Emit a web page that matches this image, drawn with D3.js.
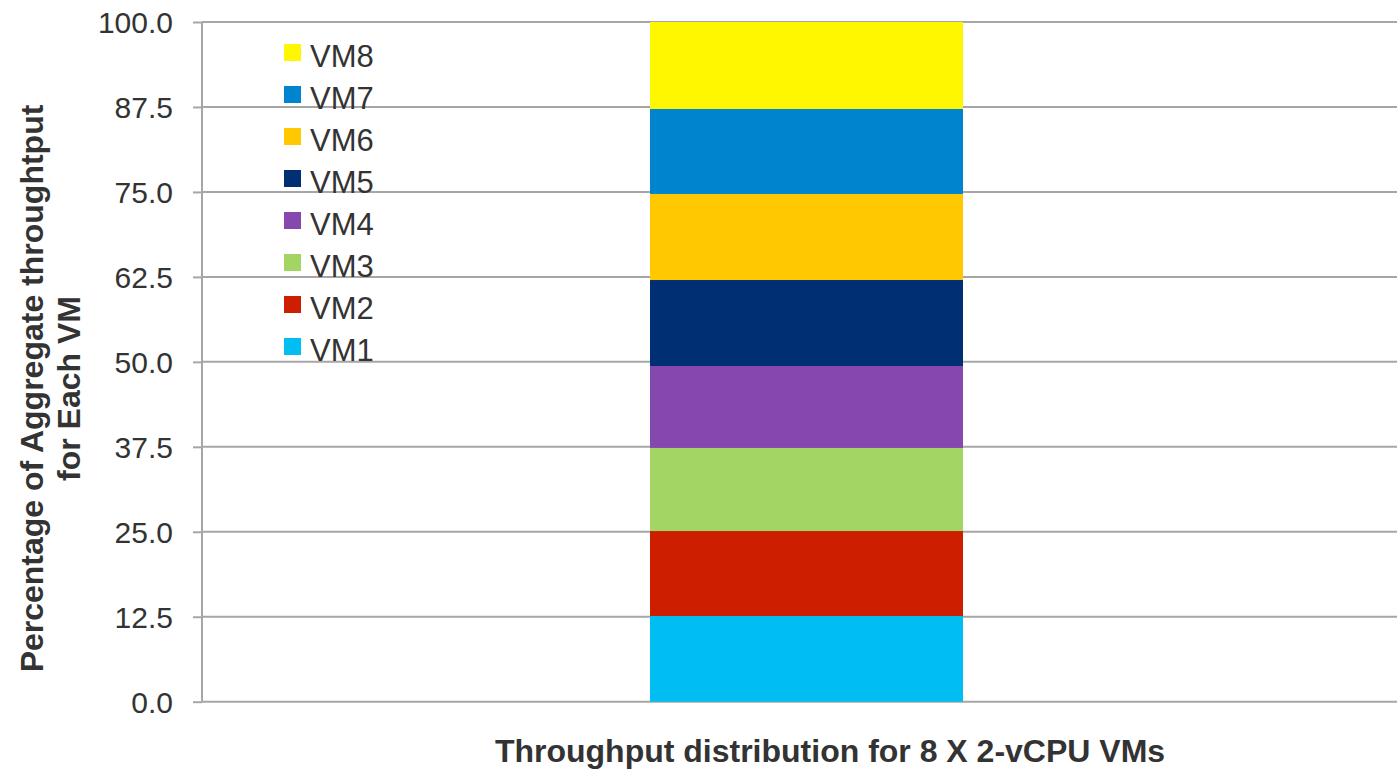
<!DOCTYPE html>
<html>
<head>
<meta charset="utf-8">
<script src="https://cdn.jsdelivr.net/npm/d3@7/dist/d3.min.js"></script>
<style>
  html, body { margin: 0; padding: 0; background: #fff; }
  svg { display: block; font-family: "Liberation Sans", Arial, sans-serif; }
</style>
</head>
<body>
<svg id="chart" width="1397" height="769"></svg>
<script>
// Share of aggregate throughput per VM (percent), stacked bottom to top
const categories = ["Throughput distribution for 8 X 2-vCPU VMs"];
const seriesNames = ["VM1", "VM2", "VM3", "VM4", "VM5", "VM6", "VM7", "VM8"];
const seriesValues = [12.61, 12.50, 12.22, 12.06, 12.65, 12.66, 12.50, 12.80];
const seriesColors = ["#00bdf2", "#cd1e00", "#a2d563", "#8549ae", "#002f73", "#ffc800", "#0084ce", "#fff700"];
const yTicks = [0, 12.5, 25, 37.5, 50, 62.5, 75, 87.5, 100];
const yTitleLines = ["Percentage of Aggregate throughtput", "for Each VM"];
const xTitle = "Throughput distribution for 8 X 2-vCPU VMs";

const svg = d3.select("#chart");
const plot = { left: 202, right: 1411, top: 22, bottom: 701.7 };

const y = d3.scaleLinear().domain([0, 100]).range([plot.bottom, plot.top]);
const x = d3.scaleBand().domain(categories).range([plot.left, plot.right])
  .paddingInner(0.5887).paddingOuter(0.5887);

// Horizontal gridlines
svg.append("g").selectAll("line").data(yTicks).join("line")
  .attr("x1", plot.left).attr("x2", plot.right)
  .attr("y1", d => y(d)).attr("y2", d => y(d))
  .attr("stroke", "#a6a6a6").attr("stroke-width", 2);

// Stacked bar
const row = { cat: categories[0] };
seriesNames.forEach((n, i) => row[n] = seriesValues[i]);
const stack = d3.stack().keys(seriesNames)([row]);
svg.append("g").selectAll("rect").data(stack).join("rect")
  .attr("x", x(categories[0]))
  .attr("width", x.bandwidth())
  .attr("y", d => y(d[0][1]))
  .attr("height", d => y(d[0][0]) - y(d[0][1]))
  .attr("fill", (d, i) => seriesColors[i]);

// Y axis
const yAxis = d3.axisLeft(y).tickValues(yTicks).tickFormat(d3.format(".1f"))
  .tickSize(9).tickPadding(20);
const ga = svg.append("g").attr("transform", `translate(${plot.left},0)`).call(yAxis);
ga.select(".domain").attr("stroke", "#a6a6a6").attr("stroke-width", 2)
  .attr("d", `M0,${plot.top}V${plot.bottom}`);
ga.selectAll(".tick line").attr("stroke", "#a6a6a6").attr("stroke-width", 2);
ga.selectAll(".tick text").attr("fill", "#333").style("font-size", "30px")
  .attr("dy", "0.36em").style("font-family", "'Liberation Sans', Arial, sans-serif");

// Y axis title
[43, 80].forEach((bx, i) => {
  svg.append("text")
    .attr("transform", `translate(${bx},388.5) rotate(-90)`)
    .attr("text-anchor", "middle")
    .attr("fill", "#333").style("font-size", "32px").style("font-weight", "bold")
    .text(yTitleLines[i]);
});

// X axis title
svg.append("text")
  .attr("x", 830).attr("y", 761.5)
  .attr("text-anchor", "middle")
  .attr("fill", "#333").style("font-size", "32px").style("font-weight", "bold")
  .text(xTitle);

// Legend (top entry is the top of the stack)
const legendOrder = seriesNames.map((n, i) => ({ name: n, color: seriesColors[i] })).reverse();
const lg = svg.append("g").selectAll("g").data(legendOrder).join("g")
  .attr("transform", (d, i) => `translate(284,${44 + i * 42})`);
lg.append("rect").attr("width", 17).attr("height", 17).attr("fill", d => d.color);
lg.append("text").attr("x", 26).attr("y", 23)
  .attr("fill", "#333").style("font-size", "31px")
  .text(d => d.name);
</script>
</body>
</html>
